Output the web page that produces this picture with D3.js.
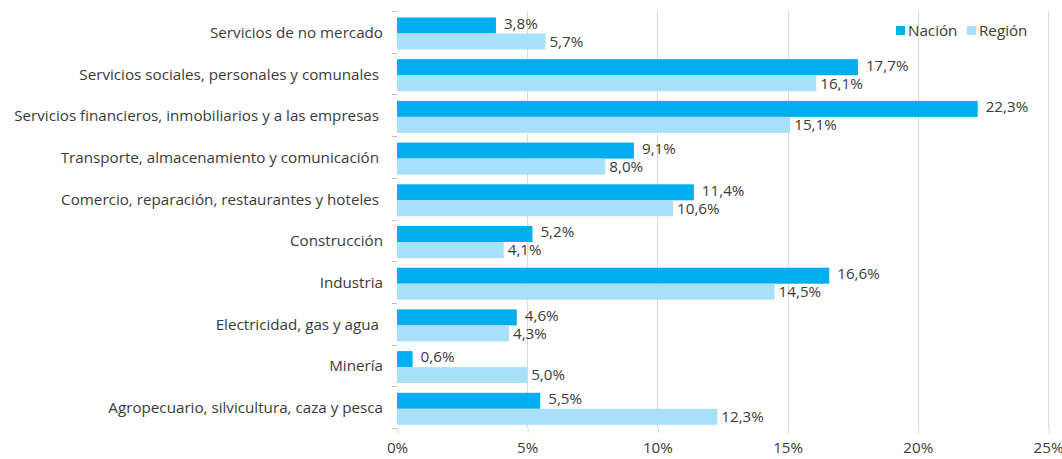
<!DOCTYPE html>
<html><head><meta charset="utf-8">
<script src="https://cdn.jsdelivr.net/npm/d3@7"></script>
<style>body{margin:0;background:#fff;}svg{display:block;font-family:"Open Sans",sans-serif;}</style>
</head><body><svg id="c" width="1062" height="459"></svg>
<script>
const categories = ["Servicios de no mercado","Servicios sociales, personales y comunales ","Servicios financieros, inmobiliarios y a las empresas ","Transporte, almacenamiento y comunicación ","Comercio, reparación, restaurantes y hoteles ","Construcción","Industria","Electricidad, gas y agua ","Minería","Agropecuario, silvicultura, caza y pesca"];
const nacion = [3.8,17.7,22.3,9.1,11.4,5.2,16.6,4.6,0.6,5.5];
const region = [5.7,16.1,15.1,8.0,10.6,4.1,14.5,4.3,5.0,12.3];
const seriesNames = ["Nación","Región"];
const xTicks = [0,5,10,15,20,25];
const colors = ["#00adee","#a9e0f9"];

const FONT = "'Open Sans',sans-serif", FS = 15.2, TXT = "#3a3a3a";
const svg = d3.select("#c");
const L=397, R=1048, T=11, B=428;
const x = d3.scaleLinear().domain([0,25]).range([L,R]);
const y = d3.scaleBand().domain(categories).range([T,B]);
const groupTop = 6.5, barH = 16;
const ys = d3.scaleBand().domain(seriesNames).range([groupTop, groupTop+2*barH]);
const fmt = v => d3.format(".1f")(v).replace(".",",")+"%";

// gridlines
svg.append("g").selectAll("line").data(xTicks.slice(1)).join("line")
  .attr("x1",d=>Math.round(x(d))+0.5).attr("x2",d=>Math.round(x(d))+0.5).attr("y1",T).attr("y2",B)
  .attr("stroke","#d9d9d9").attr("stroke-width",1);

// x axis
const xa = svg.append("g").attr("transform",`translate(0,${B})`)
  .call(d3.axisBottom(x).tickValues(xTicks).tickFormat(d=>d+"%").tickSize(5).tickPadding(9));
xa.select(".domain").remove();
xa.selectAll("line").attr("stroke","#d9d9d9").attr("transform","translate(0.5,0)");
xa.selectAll("text").attr("font-size",FS).attr("fill",TXT).attr("font-family",FONT);

// y axis ticks
const bounds = d3.range(categories.length+1).map(i=>T+i*y.step());
svg.append("g").selectAll("line").data(bounds).join("line")
  .attr("x1",L-5).attr("x2",L).attr("y1",d=>Math.round(d)+0.5).attr("y2",d=>Math.round(d)+0.5)
  .attr("stroke","#bfbfbf");

svg.append("g").selectAll("text").data(categories).join("text")
  .attr("x",383).attr("y",d=>y(d)+groupTop+barH-1).attr("dy","0.35em")
  .attr("text-anchor","end").attr("font-size",FS).attr("fill",TXT).attr("font-family",FONT)
  .attr("xml:space","preserve").text(d=>d);

const series = [nacion, region];
series.forEach((vals,si)=>{
  const g = svg.append("g");
  g.selectAll("rect").data(vals).join("rect")
    .attr("x",L).attr("y",(d,i)=>y(categories[i])+ys(seriesNames[si]))
    .attr("width",d=>x(d)-L).attr("height",ys.bandwidth()).attr("fill",colors[si]);
  g.selectAll("text").data(vals).join("text")
    .attr("x",d=>x(d)+(si===0?8:4)).attr("y",(d,i)=>y(categories[i])+ys(seriesNames[si])+ys.bandwidth()/2-(si===0?2:0))
    .attr("dy","0.35em").attr("font-size",FS).attr("fill",TXT).attr("font-family",FONT).text(d=>fmt(d));
});

// legend
const lg = svg.append("g");
const lx=[896,967];
seriesNames.forEach((n,i)=>{
  lg.append("rect").attr("x",lx[i]).attr("y",26).attr("width",9).attr("height",9).attr("fill",colors[i]);
  lg.append("text").attr("x",lx[i]+12).attr("y",30.5).attr("dy","0.35em").attr("font-size",FS).attr("fill",TXT).attr("font-family",FONT).text(n);
});
</script></body></html>
